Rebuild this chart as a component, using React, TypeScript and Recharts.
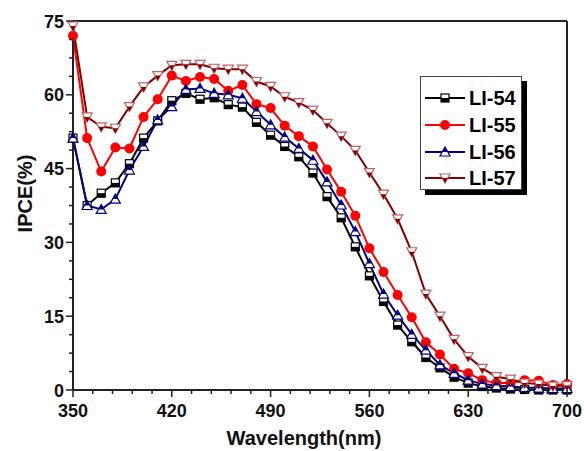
import React from "react";
import { LineChart, Line, XAxis, YAxis, ReferenceLine } from "recharts";

// wavelength in nm, every 10 nm
const wavelengths = [
  350, 360, 370, 380, 390, 400, 410, 420, 430, 440, 450, 460, 470, 480, 490, 500, 510, 520,
  530, 540, 550, 560, 570, 580, 590, 600, 610, 620, 630, 640, 650, 660, 670, 680, 690, 700,
];

// IPCE (%)
const li54 = [
  51.2, 37.5, 40, 42.1, 46, 51.2, 54.7, 58.8, 60.3, 59.1, 59.4, 58, 57.5, 54.4, 51.8, 49.5, 47.4, 44.1,
  39.3, 35, 29.1, 23.2, 18, 13.2, 9.8, 6.6, 4.5, 2.6, 1.4, 0.7, 0.4, 0.2, 0.1, 0, 0, 0,
];
const li55 = [
  72, 51.2, 44.4, 49.3, 49.1, 55.5, 59.1, 63.9, 62.8, 63.6, 63.2, 60.8, 62, 58.1, 57.3, 53.7, 51.6, 49.5,
  44.8, 40.3, 35.4, 28.8, 24, 19.3, 14.8, 9.7, 7.2, 4.3, 3.4, 2, 1.4, 1.4, 2, 1.9, 1, 1.2,
];
const li56 = [
  51.2, 37.5, 36.7, 38.8, 44.7, 49.5, 54.9, 57.6, 61.1, 61.3, 60.3, 60, 59.3, 56.6, 53.9, 51.4, 49.1, 46.7,
  42.3, 37.6, 32.2, 25.7, 19.5, 15.2, 11.3, 8.1, 5.1, 3.4, 2, 1.2, 0.9, 0.7, 0.5, 0.4, 0.3, 0.3,
];
const li57 = [
  74, 55.5, 53.5, 53.2, 57.6, 61.6, 63.9, 66, 66.2, 66.2, 65.4, 65.2, 65.2, 62.7, 61.7, 59.6, 58.4, 56.9,
  54.2, 51.6, 48.7, 44.2, 39.8, 34.8, 28.1, 19.5, 15, 10.3, 6.8, 4.4, 2.7, 2.2, 1.4, 1.2, 0.8, 0.9,
];

const xMajorTicks = [350, 420, 490, 560, 630, 700];
const yMajorTicks = [0, 15, 30, 45, 60, 75];

// 4 minor ticks between x majors, 3 between y majors
const xTicks: number[] = [];
for (let i = 0; i < xMajorTicks.length - 1; i++) {
  const step = (xMajorTicks[i + 1] - xMajorTicks[i]) / 5;
  for (let k = 0; k < 5; k++) xTicks.push(xMajorTicks[i] + k * step);
}
xTicks.push(xMajorTicks[xMajorTicks.length - 1]);
const yTicks: number[] = [];
for (let i = 0; i < yMajorTicks.length - 1; i++) {
  const step = (yMajorTicks[i + 1] - yMajorTicks[i]) / 4;
  for (let k = 0; k < 4; k++) yTicks.push(yMajorTicks[i] + k * step);
}
yTicks.push(yMajorTicks[yMajorTicks.length - 1]);

const data = wavelengths.map((wl, i) => ({
  wl,
  li54: li54[i],
  li55: li55[i],
  li56: li56[i],
  li57: li57[i],
}));

const FONT = "'Liberation Sans', Arial, sans-serif";
const AXIS = "#222";

// half-filled markers like the original plot
const marker = (kind: string, cx: number, cy: number, key?: any) => {
  if (kind === "li54") {
    return (
      <g key={key}>
        <rect x={cx - 4} y={cy - 4} width={8} height={8} fill="#fff" stroke="#000" strokeWidth={1.2} />
        <rect x={cx - 4} y={cy} width={8} height={4} fill="#000" />
      </g>
    );
  }
  if (kind === "li55") {
    return <circle key={key} cx={cx} cy={cy} r={5} fill="#ff0000" />;
  }
  if (kind === "li56") {
    return (
      <g key={key}>
        <polygon points={`${cx},${cy - 5} ${cx - 5},${cy + 4} ${cx + 5},${cy + 4}`} fill="#fff" stroke="#000080" strokeWidth={1.2} />
        <polygon points={`${cx},${cy - 5} ${cx - 2.8},${cy} ${cx + 2.8},${cy}`} fill="#000080" />
      </g>
    );
  }
  return (
    <g key={key}>
      <polygon points={`${cx - 5},${cy - 4} ${cx + 5},${cy - 4} ${cx},${cy + 5}`} fill="#fff" stroke="#c06060" strokeWidth={1.2} />
      <polygon points={`${cx - 2.8},${cy} ${cx + 2.8},${cy} ${cx},${cy + 5}`} fill="#800000" />
    </g>
  );
};

const series = [
  { key: "li54", name: "LI-54", color: "#000000" },
  { key: "li55", name: "LI-55", color: "#ff0000" },
  { key: "li56", name: "LI-56", color: "#000080" },
  { key: "li57", name: "LI-57", color: "#800000" },
];

const XTick = (props: any) => {
  const { x, y, payload } = props;
  const major = xMajorTicks.includes(payload.value);
  return (
    <g>
      <line x1={x} y1={y} x2={x} y2={y + (major ? 7 : 4)} stroke={AXIS} strokeWidth={1.5} />
      {major && (
        <text x={x} y={y + 27} textAnchor="middle" fontFamily={FONT} fontWeight="bold" fontSize={18} fill="#111">
          {payload.value}
        </text>
      )}
    </g>
  );
};

const YTick = (props: any) => {
  const { x, y, payload } = props;
  const major = yMajorTicks.includes(payload.value);
  return (
    <g>
      <line x1={x - (major ? 7 : 4)} y1={y} x2={x} y2={y} stroke={AXIS} strokeWidth={1.5} />
      {major && (
        <text x={x - 9} y={y + 6.5} textAnchor="end" fontFamily={FONT} fontWeight="bold" fontSize={18} fill="#111">
          {payload.value}
        </text>
      )}
    </g>
  );
};

// drawn over the plot, like the boxed legend of the original
const LegendBox = () => (
  <div
    style={{
      position: "absolute",
      left: 420,
      top: 76,
      width: 102,
      height: 114,
      border: "1px solid #444",
      background: "#fff",
      boxShadow: "5px 5px 0 #000",
      paddingTop: 8,
      boxSizing: "border-box",
    }}
  >
    {series.map((s) => (
      <div key={s.key} style={{ display: "flex", alignItems: "center", height: 26.7 }}>
        <svg width={48} height={14} style={{ display: "block" }}>
          <line x1={4} y1={7} x2={44} y2={7} stroke={s.color} strokeWidth={2} />
          {marker(s.key, 24, 7)}
        </svg>
        <span style={{ fontFamily: FONT, fontWeight: "bold", fontSize: 20, color: "#000", lineHeight: "20px" }}>
          {s.name}
        </span>
      </div>
    ))}
  </div>
);

export default function App() {
  return (
    <div style={{ position: "absolute", left: 0, top: 0, width: 584, height: 451, background: "#fff" }}>
      <LineChart width={584} height={451} data={data} margin={{ top: 21, right: 17, bottom: 11, left: 13 }}>
        <XAxis
          dataKey="wl"
          type="number"
          domain={[350, 700]}
          ticks={xTicks}
          interval={0}
          height={50}
          tickSize={0}
          tickMargin={0}
          tickLine={false}
          tick={<XTick />}
          axisLine={{ stroke: AXIS, strokeWidth: 2 }}
          label={{
            value: "Wavelength(nm)",
            position: "insideBottom",
            offset: -5,
            dx: -16,
            style: { fontFamily: FONT, fontWeight: "bold", fontSize: 20, fill: "#111" },
          }}
        />
        <YAxis
          type="number"
          domain={[0, 75]}
          ticks={yTicks}
          interval={0}
          width={60}
          tickSize={0}
          tickMargin={0}
          tickLine={false}
          tick={<YTick />}
          axisLine={{ stroke: AXIS, strokeWidth: 2 }}
          label={{
            value: "IPCE(%)",
            angle: -90,
            position: "insideLeft",
            offset: 12,
            dy: -12,
            style: { fontFamily: FONT, fontWeight: "bold", fontSize: 20, fill: "#111", textAnchor: "middle" },
          }}
        />
        <ReferenceLine y={75} stroke={AXIS} strokeWidth={2} />
        <ReferenceLine x={700} stroke={AXIS} strokeWidth={2} />
        {series.map((s) => (
          <Line
            key={s.key}
            type="linear"
            dataKey={s.key}
            name={s.name}
            stroke={s.color}
            strokeWidth={2}
            isAnimationActive={false}
            dot={(p: any) => marker(s.key, p.cx, p.cy, p.index)}
            activeDot={false}
          />
        ))}
      </LineChart>
      <LegendBox />
    </div>
  );
}
